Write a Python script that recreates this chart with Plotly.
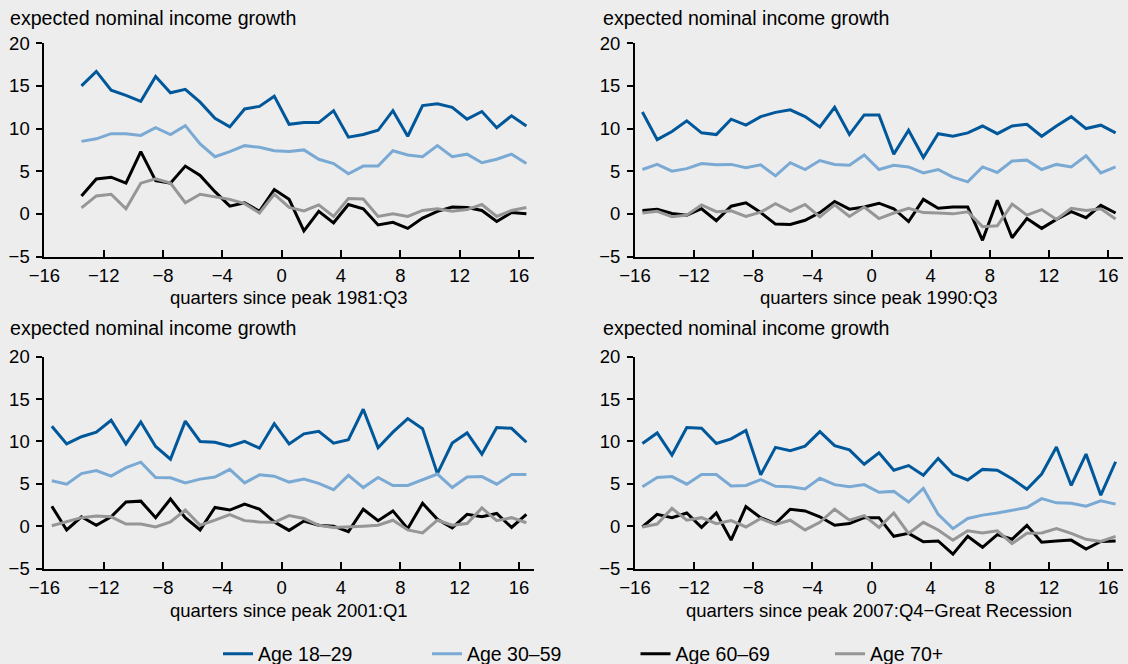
import plotly.graph_objects as go

# Quarter positions relative to each business-cycle peak
quarters_1981 = [q + 0.5 for q in range(-14, 17)]
quarters_long = [q + 0.5 for q in range(-16, 17)]

# 1981:Q3 peak
age18_1981 = [15.0, 16.7, 14.5, 13.9, 13.2, 16.1, 14.2, 14.6, 13.1, 11.2, 10.2, 12.3, 12.6, 13.8,
              10.5, 10.7, 10.7, 12.1, 9.0, 9.3, 9.8, 12.1, 9.1, 12.7, 12.9, 12.5, 11.1, 12.0, 10.1, 11.5, 10.3]
age30_1981 = [8.5, 8.8, 9.4, 9.4, 9.2, 10.1, 9.3, 10.35, 8.2, 6.7, 7.3, 8.0, 7.8, 7.4,
              7.3, 7.5, 6.4, 5.9, 4.7, 5.6, 5.6, 7.4, 6.9, 6.7, 8.0, 6.7, 7.0, 6.0, 6.4, 7.0, 5.9]
age60_1981 = [2.1, 4.1, 4.3, 3.6, 7.3, 3.9, 3.6, 5.6, 4.5, 2.6, 0.9, 1.3, 0.3, 2.85,
              1.7, -2.0, 0.3, -1.05, 1.1, 0.6, -1.3, -1.0, -1.7, -0.5, 0.3, 0.8, 0.75, 0.4, -0.9, 0.15, 0.0]
age70_1981 = [0.7, 2.1, 2.3, 0.6, 3.6, 4.1, 3.6, 1.3, 2.3, 2.0, 1.7, 1.2, 0.1, 2.3,
              0.75, 0.35, 1.05, -0.3, 1.8, 1.75, -0.3, 0.0, -0.3, 0.4, 0.6, 0.3, 0.5, 1.1, -0.3, 0.4, 0.75]

# 1990:Q3 peak
age18_1990 = [11.95, 8.7, 9.65, 10.9, 9.5, 9.3, 11.1, 10.4, 11.4, 11.9, 12.2, 11.4, 10.2, 12.5, 9.3, 11.6,
              11.6, 7.0, 9.8, 6.6, 9.4, 9.1, 9.5, 10.3, 9.4, 10.3, 10.5, 9.1, 10.3, 11.4, 10.0, 10.4, 9.5]
age30_1990 = [5.2, 5.8, 5.0, 5.3, 5.9, 5.75, 5.8, 5.4, 5.75, 4.45, 6.0, 5.2, 6.25, 5.8, 5.7, 6.9,
              5.2, 5.7, 5.5, 4.8, 5.2, 4.3, 3.75, 5.5, 4.85, 6.2, 6.3, 5.2, 5.8, 5.5, 6.8, 4.8, 5.5]
age60_1990 = [0.4, 0.55, 0.05, -0.15, 0.6, -0.8, 0.9, 1.3, 0.15, -1.2, -1.25, -0.75, 0.15, 1.45, 0.55, 0.8,
              1.25, 0.6, -0.9, 1.7, 0.65, 0.8, 0.8, -3.1, 1.6, -2.8, -0.55, -1.7, -0.65, 0.25, -0.45, 1.0, 0.1]
age70_1990 = [0.1, 0.3, -0.35, -0.15, 1.05, 0.25, 0.35, -0.3, 0.2, 1.2, 0.3, 1.1, -0.35, 1.05, -0.3, 0.8,
              -0.55, 0.1, 0.65, 0.15, 0.1, 0.0, 0.25, -1.5, -1.4, 1.15, -0.15, 0.5, -0.65, 0.65, 0.4, 0.6, -0.6]

# 2001:Q1 peak
age18_2001 = [11.8, 9.7, 10.55, 11.1, 12.5, 9.7, 12.3, 9.4, 7.9, 12.4, 10.0, 9.9, 9.45, 10.0, 9.2, 12.1,
              9.7, 10.9, 11.2, 9.8, 10.2, 13.8, 9.25, 11.1, 12.7, 11.5, 6.2, 9.8, 11.0, 8.5, 11.65, 11.55, 9.9]
age30_2001 = [5.35, 4.95, 6.2, 6.55, 5.9, 6.9, 7.55, 5.75, 5.7, 5.1, 5.55, 5.8, 6.7, 5.1, 6.05, 5.9,
              5.2, 5.55, 5.05, 4.3, 6.0, 4.55, 5.75, 4.8, 4.8, 5.5, 6.15, 4.55, 5.8, 5.85, 4.95, 6.1, 6.1]
age60_2001 = [2.35, -0.45, 1.1, 0.1, 1.1, 2.85, 2.95, 1.0, 3.2, 1.0, -0.45, 2.2, 1.9, 2.6, 2.0, 0.5,
              -0.5, 0.6, 0.1, 0.0, -0.65, 2.0, 0.65, 1.8, -0.3, 2.7, 0.8, -0.2, 1.4, 1.1, 1.5, -0.15, 1.4]
age70_2001 = [0.05, 0.5, 1.0, 1.2, 1.1, 0.25, 0.25, -0.1, 0.5, 1.9, 0.1, 0.7, 1.35, 0.65, 0.5, 0.45,
              1.25, 0.9, 0.1, -0.15, -0.1, 0.0, 0.1, 0.7, -0.45, -0.8, 0.7, 0.1, 0.3, 2.15, 0.65, 1.0, 0.4]

# 2007:Q4 peak (Great Recession)
age18_2007 = [9.75, 11.0, 8.4, 11.65, 11.55, 9.75, 10.3, 11.3, 6.05, 9.3, 8.9, 9.45, 11.15, 9.5, 9.0, 7.3,
              8.65, 6.6, 7.15, 6.0, 8.0, 6.15, 5.45, 6.7, 6.6, 5.6, 4.35, 6.15, 9.35, 4.8, 8.5, 3.65, 7.6]
age30_2007 = [4.65, 5.75, 5.85, 4.95, 6.1, 6.1, 4.75, 4.8, 5.5, 4.7, 4.65, 4.4, 5.65, 4.9, 4.65, 4.9,
              4.0, 4.1, 2.85, 4.45, 1.4, -0.3, 0.9, 1.3, 1.55, 1.9, 2.2, 3.25, 2.75, 2.7, 2.35, 3.0, 2.6]
age60_2007 = [-0.1, 1.4, 1.0, 1.55, -0.15, 1.55, -1.65, 2.3, 1.0, 0.3, 2.0, 1.8, 1.1, 0.1, 0.3, 1.0,
              1.0, -1.2, -0.85, -1.85, -1.75, -3.3, -1.2, -2.5, -1.0, -1.55, 0.1, -1.9, -1.75, -1.65, -2.7, -1.8, -1.75]
age70_2007 = [-0.1, 0.25, 2.1, 0.7, 1.0, 0.3, 0.65, -0.1, 0.9, 0.2, 0.7, -0.45, 0.45, 2.0, 0.7, 1.25,
              -0.15, 1.55, -0.85, 0.45, -0.45, -1.65, -0.55, -0.8, -0.55, -2.05, -0.85, -0.8, -0.3, -0.85, -1.55, -1.8, -1.2]

series_names = ["Age 18\u201329", "Age 30\u201359", "Age 60\u201369", "Age 70+"]
series_colors = ["#00589b", "#7aaad4", "#000000", "#969696"]

x_tick_vals = [-16, -12, -8, -4, 0, 4, 8, 12, 16]
y_tick_vals = [-5, 0, 5, 10, 15, 20]

panel_titles = [
    "quarters since peak 1981:Q3",
    "quarters since peak 1990:Q3",
    "quarters since peak 2001:Q1",
    "quarters since peak 2007:Q4\u2212Great Recession",
]
y_label = "expected nominal income growth"

panels = [
    (quarters_1981, [age18_1981, age30_1981, age60_1981, age70_1981]),
    (quarters_long, [age18_1990, age30_1990, age60_1990, age70_1990]),
    (quarters_long, [age18_2001, age30_2001, age60_2001, age70_2001]),
    (quarters_long, [age18_2007, age30_2007, age60_2007, age70_2007]),
]

W, H = 1128, 664
FONT = "Liberation Sans, Arial, Helvetica, sans-serif"
BG = "#ededed"

x_domains = [[44.4 / W, 533.8 / W], [635 / W, 1123 / W]]
y_domains = [[1 - 256.5 / H, 1 - 43.3 / H], [1 - 568.5 / H, 1 - 356.7 / H]]

fig = go.Figure()
legend_keys = ["legend", "legend2", "legend3", "legend4"]

for p, (xs, ys_list) in enumerate(panels):
    ax = "" if p == 0 else str(p + 1)
    for s, ys in enumerate(ys_list):
        fig.add_trace(go.Scatter(
            x=xs, y=ys, mode="lines", name=series_names[s],
            line=dict(color=series_colors[s], width=3),
            xaxis="x" + ax, yaxis="y" + ax,
            showlegend=(p == 0), legend=legend_keys[s],
            hoverinfo="skip",
        ))

layout = dict(
    width=W, height=H,
    margin=dict(l=0, r=0, t=0, b=0, autoexpand=False),
    paper_bgcolor=BG, plot_bgcolor=BG,
    font=dict(family=FONT, size=18, color="#000000"),
    annotations=[],
)

axis_common = dict(
    showline=True, linecolor="#000000", linewidth=2,
    showgrid=False, zeroline=False, automargin=False,
    tickcolor="#000000", tickwidth=2,
    tickfont=dict(family=FONT, size=18.5, color="#000000"),
)

for p in range(4):
    col, row = p % 2, p // 2
    ax = "" if p == 0 else str(p + 1)
    layout["xaxis" + ax] = dict(
        axis_common, domain=x_domains[col], range=[-16, 17],
        tickmode="array", tickvals=x_tick_vals,
        ticks="inside", ticklen=7, ticklabelstandoff=1,
        anchor="y" + ax, fixedrange=True,
    )
    layout["yaxis" + ax] = dict(
        axis_common, domain=y_domains[row], range=[-5, 20],
        tickmode="array", tickvals=y_tick_vals,
        ticks="outside", ticklen=6, ticklabelstandoff=3,
        anchor="x" + ax, fixedrange=True,
    )
    xc = (x_domains[col][0] + x_domains[col][1]) / 2
    # x-axis caption under each panel
    layout["annotations"].append(dict(
        text=panel_titles[p], xref="paper", yref="paper",
        x=xc, y=[1 - 297 / H, 1 - 610.5 / H][row],
        xanchor="center", yanchor="middle", showarrow=False,
        font=dict(family=FONT, size=18.5, color="#000000"),
    ))
    # y-axis label above each panel
    layout["annotations"].append(dict(
        text=y_label, xref="paper", yref="paper",
        x=[8 / W, 600.7 / W][col], y=[1 - 18 / H, 1 - 328 / H][row],
        xanchor="left", yanchor="middle", showarrow=False,
        font=dict(family=FONT, size=19.6, color="#000000"),
    ))

legend_text_x = [258, 467, 675.5, 870]
for key, tx in zip(legend_keys, legend_text_x):
    layout[key] = dict(
        x=(tx - 40) / W, y=1 - 654 / H, xanchor="left", yanchor="middle",
        orientation="h", bgcolor="rgba(0,0,0,0)", borderwidth=0,
        font=dict(family=FONT, size=19.5, color="#000000"),
    )

fig.update_layout(**layout)
fig.write_html("out.html")
